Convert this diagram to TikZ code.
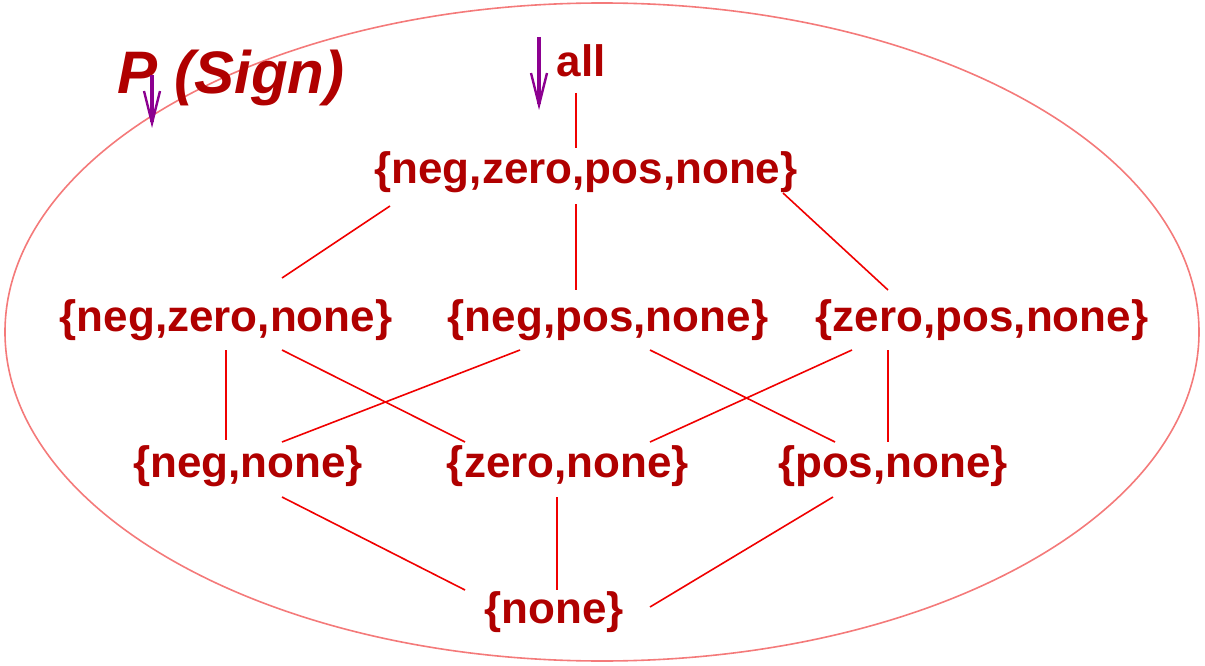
\documentclass[tikz,border=0pt]{standalone}
\usepackage{fontspec}
\setmainfont{Liberation Sans}
\usetikzlibrary{calc,arrows.meta}
\definecolor{txtred}{HTML}{B00000}
\definecolor{linered}{HTML}{F00000}
\definecolor{ellred}{HTML}{F47A7A}
\definecolor{arrpurple}{HTML}{8C0090}
\tikzset{
  setnode/.style={text=txtred, font=\fontsize{44}{50}\selectfont\bfseries, inner sep=0pt},
  titlenode/.style={text=txtred, font=\fontsize{60}{66}\selectfont\bfseries\itshape, inner sep=0pt},
  edge/.style={draw=linered, line width=1.6pt},
  pointer/.style={draw=arrpurple, line width=3.4pt, -{Straight Barb[length=32pt,width=16pt,line width=2.4pt]}},
}
\begin{document}
\begin{tikzpicture}[x=1pt,y=-1pt]
\useasboundingbox (0,0) rectangle (1205,666);
\draw[ellred, line width=1.6pt] (602,332) ellipse [x radius=597, y radius=329];

\node[titlenode] (title) at (231,78) {P (Sign)};
\node[setnode] (all) at (581,61) {all};
\node[setnode] (top) at (586,172) {\{neg,zero,pos,none\}};
\node[setnode] (nzn) at (226,320) {\{neg,zero,none\}};
\node[setnode] (npn) at (608,320) {\{neg,pos,none\}};
\node[setnode] (zpn) at (982,320) {\{zero,pos,none\}};
\node[setnode] (nn) at (248,466) {\{neg,none\}};
\node[setnode] (zn) at (568,466) {\{zero,none\}};
\node[setnode] (pn) at (893,466) {\{pos,none\}};
\node[setnode] (none) at (554,612) {\{none\}};

\draw[edge] ($(all)+(-5,32)$) -- ($(top)+(-10,-24)$);
\draw[edge] ($(top)+(-196,34)$) -- ($(nzn)+(56,-42)$);
\draw[edge] ($(top)+(-10,32)$) -- ($(npn)+(-32,-30)$);
\draw[edge] ($(top)+(197,21)$) -- ($(zpn)+(-94,-30)$);
\draw[edge] ($(nzn)+(0,30)$) -- ($(nn)+(-22,-26)$);
\draw[edge] ($(nzn)+(56,30)$) -- ($(zn)+(-103,-24)$);
\draw[edge] ($(npn)+(-88,30)$) -- ($(nn)+(34,-24)$);
\draw[edge] ($(npn)+(42,30)$) -- ($(pn)+(-58,-24)$);
\draw[edge] ($(zpn)+(-130,30)$) -- ($(zn)+(82,-24)$);
\draw[edge] ($(zpn)+(-94,30)$) -- ($(pn)+(-5,-24)$);
\draw[edge] ($(nn)+(34,31)$) -- ($(none)+(-89,-22)$);
\draw[edge] ($(zn)+(-11,31)$) -- ($(none)+(3,-22)$);
\draw[edge] ($(pn)+(-60,31)$) -- ($(none)+(96,-5)$);

\coordinate (p1s) at (152,75);
\coordinate (p1e) at (152,128);
\coordinate (p2s) at (539,37);
\coordinate (p2e) at (539,110);
\draw[pointer] (p1s) -- (p1e);
\draw[pointer] (p2s) -- (p2e);
\end{tikzpicture}
\end{document}
